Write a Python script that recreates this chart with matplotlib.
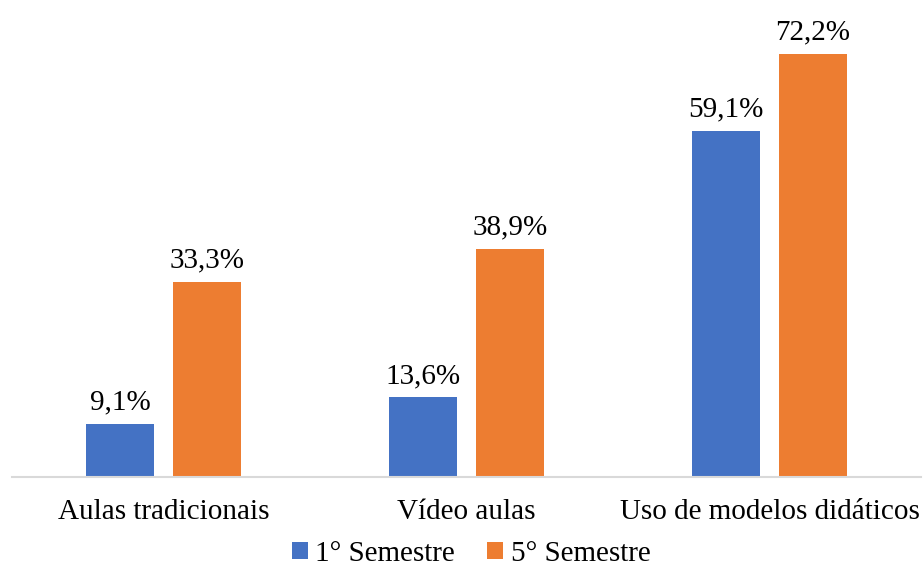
import matplotlib.pyplot as plt
import numpy as np

categories = ["Aulas tradicionais", "Vídeo aulas", "Uso de modelos didáticos"]
sem1 = [9.1, 13.6, 59.1]
sem5 = [33.3, 38.9, 72.2]
series_names = ["1° Semestre", "5° Semestre"]

plt.rcParams["font.family"] = ["Liberation Serif", "DejaVu Serif"]
FS = 21

fig = plt.figure(figsize=(9.24, 5.76), dpi=100)
ax = fig.add_axes([12 / 924, 99 / 576, 909 / 924, 469 / 576])

x = np.arange(len(categories))
w = 0.224
off = 0.143
b1 = ax.bar(x - off, sem1, w, color="#4472C4", label=series_names[0])
b2 = ax.bar(x + off, sem5, w, color="#ED7D31", label=series_names[1])

for bars in (b1, b2):
    for rect in bars:
        h = rect.get_height()
        ax.annotate(f"{h:.1f}%".replace(".", ","),
                    (rect.get_x() + rect.get_width() / 2, h),
                    xytext=(0, 6), textcoords="offset points",
                    ha="center", va="bottom", fontsize=FS)

ax.set_xlim(-0.5, 2.5)
ax.set_ylim(0, 80)
ax.set_xticks(x)
ax.set_xticklabels(categories, fontsize=FS)
ax.tick_params(axis="x", length=0, pad=16)
ax.set_yticks([])
for s in ("top", "right", "left"):
    ax.spines[s].set_visible(False)
ax.spines["bottom"].set_color("#D9D9D9")
ax.spines["bottom"].set_linewidth(1.5)

fig.legend(loc="lower center", bbox_to_anchor=(0.51, -0.03), ncol=2,
           frameon=False, fontsize=FS, handlelength=0.55, handleheight=0.55,
           columnspacing=1.1, handletextpad=0.25)

fig.savefig("out.png", dpi=100)
